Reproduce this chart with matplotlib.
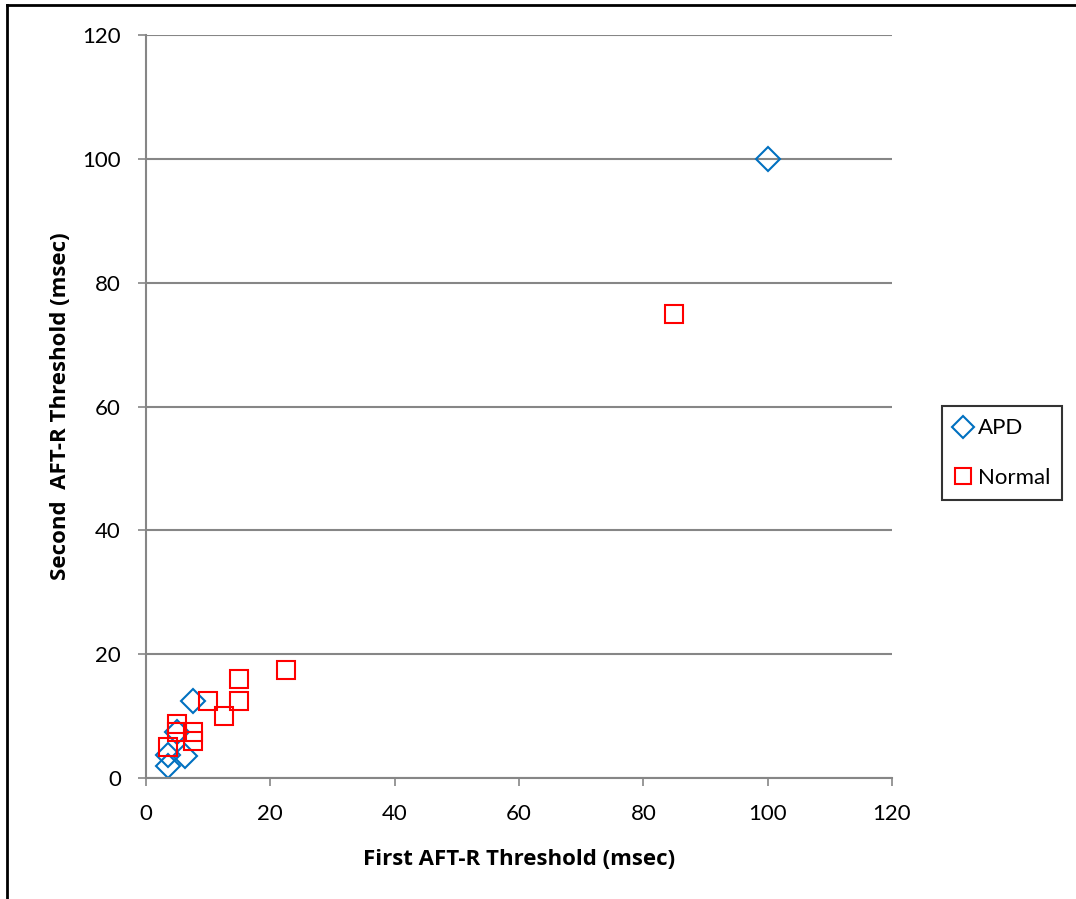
import matplotlib.pyplot as plt
import matplotlib.lines as mlines

plt.rcParams['font.family'] = ['Lato', 'DejaVu Sans']

# APD group: first vs second AFT-R threshold (msec)
apd_first = [100, 7.5, 5, 6.25, 3.5, 3.5]
apd_second = [100, 12.5, 7.5, 3.5, 3.75, 2]

# Normal group
normal_first = [85, 22.5, 15, 15, 10, 12.5, 7.5, 7.5, 5, 5, 3.5]
normal_second = [75, 17.5, 16, 12.5, 12.5, 10, 7.5, 6, 8.75, 7.5, 5]

xticks = [0, 20, 40, 60, 80, 100, 120]
yticks = [0, 20, 40, 60, 80, 100, 120]

blue = '#0070C0'
red = '#FF0000'
grey = '#868686'

fig = plt.figure(figsize=(10.76, 8.99), dpi=100)
ax = fig.add_axes([0.1357, 0.1346, 0.829 - 0.1357, 0.961 - 0.1346])

ax.plot(apd_first, apd_second, linestyle='none', marker='D', markersize=12.5,
        markerfacecolor='none', markeredgecolor=blue, markeredgewidth=1.5, label='APD')
ax.plot(normal_first, normal_second, linestyle='none', marker='s', markersize=13.5,
        markerfacecolor='none', markeredgecolor=red, markeredgewidth=1.5, label='Normal')

ax.set_xlim(0, 120)
ax.set_ylim(0, 120)
ax.set_xticks(xticks)
ax.set_yticks(yticks)
ax.tick_params(labelsize=16, length=6, width=1.2, color=grey, direction='out')
ax.tick_params(axis='x', pad=13)
ax.tick_params(axis='y', pad=12)
ax.yaxis.grid(True, color=grey, linewidth=1.5)
ax.set_axisbelow(True)
for side in ['top', 'right']:
    ax.spines[side].set_visible(False)
for side in ['left', 'bottom']:
    ax.spines[side].set_color(grey)
    ax.spines[side].set_linewidth(1.5)

label_font = {'family': ['Open Sans', 'DejaVu Sans'], 'size': 16, 'weight': 'bold'}
ax.set_xlabel('First AFT-R Threshold (msec)', fontdict=label_font, labelpad=18)
ax.set_ylabel('Second  AFT-R Threshold (msec)', fontdict=label_font, labelpad=8)

leg = ax.legend(loc='center left', bbox_to_anchor=(0.8755, 0.496), bbox_transform=fig.transFigure,
                fontsize=16, frameon=True, fancybox=False, edgecolor='black',
                handlelength=0.8, handletextpad=0.25, labelspacing=1.32, borderpad=0.55,
                borderaxespad=0)
leg.get_frame().set_linewidth(1.5)
for h in leg.legend_handles:
    h.set_markersize(11)

# outer chart border (left and top edges visible)
fig.add_artist(mlines.Line2D([0.0065, 0.0065], [0, 0.9945], transform=fig.transFigure,
                             color='black', linewidth=2))
fig.add_artist(mlines.Line2D([0.0065, 1], [0.9945, 0.9945], transform=fig.transFigure,
                             color='black', linewidth=2))

fig.savefig('out.png', dpi=100)
